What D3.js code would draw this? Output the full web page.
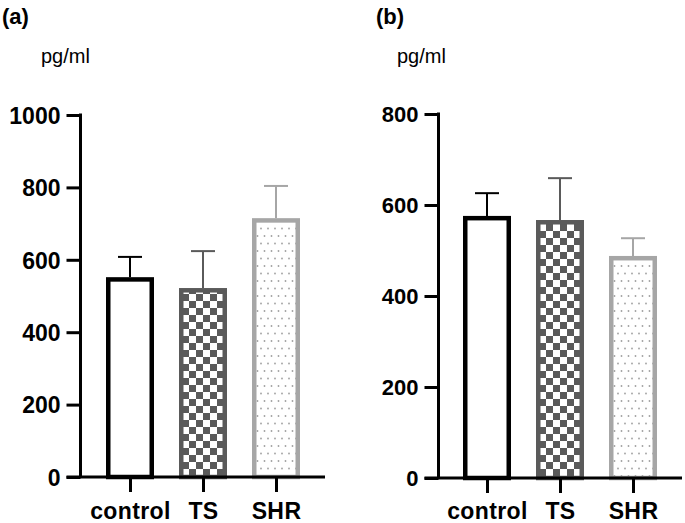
<!DOCTYPE html>
<html><head><meta charset="utf-8">
<script src="https://cdn.jsdelivr.net/npm/d3@7/dist/d3.min.js"></script>
<style>body{margin:0;background:#fff}svg{display:block}</style>
</head><body>
<svg id="c" width="685" height="523"></svg>
<script>
const categories = ["control", "TS", "SHR"];
const meansA = [552, 522, 715];
const errTopA = [608, 624, 804];
const meansB = [576, 567, 488];
const errTopB = [626, 659, 527];
const ticksA = [0, 200, 400, 600, 800, 1000];
const ticksB = [0, 200, 400, 600, 800];
const unitLabel = "pg/ml";
const panelTitles = ["(a)", "(b)"];

const svg = d3.select("#c");
const defs = svg.append("defs");
const chk = defs.append("pattern").attr("id","chk").attr("patternUnits","userSpaceOnUse")
  .attr("width",14).attr("height",14);
chk.append("rect").attr("width",14).attr("height",14).attr("fill","#fff");
chk.append("rect").attr("width",7).attr("height",7).attr("fill","#5a5a5a");
chk.append("rect").attr("x",7).attr("y",7).attr("width",7).attr("height",7).attr("fill","#5a5a5a");
const dot = defs.append("pattern").attr("id","dot").attr("patternUnits","userSpaceOnUse")
  .attr("width",7).attr("height",15);
dot.append("rect").attr("width",7).attr("height",15).attr("fill","#fff");
dot.append("circle").attr("cx",2).attr("cy",3.5).attr("r",0.9).attr("fill","#a0a0a0");
dot.append("circle").attr("cx",5.5).attr("cy",11).attr("r",0.9).attr("fill","#a0a0a0");

const styles = [
  {stroke:"#000", fill:"#fff", err:"#000"},
  {stroke:"#5a5a5a", fill:"url(#chk)", err:"#5a5a5a"},
  {stroke:"#a6a6a6", fill:"url(#dot)", err:"#a6a6a6"}
];
const FF = "Liberation Sans, Arial, sans-serif";

function panel(cfg){
  const g = svg.append("g");
  const y = d3.scaleLinear().domain([0, cfg.max]).range([cfg.y0, cfg.y1]);
  const x = d3.scalePoint().domain(categories).range(cfg.xr);
  const bw = 48, sw = 4.5;
  categories.forEach((c,i)=>{
    const cx = x(c);
    const st = styles[i];
    g.append("line").attr("x1",cx).attr("x2",cx).attr("y1",y(cfg.means[i])).attr("y2",y(cfg.err[i]))
      .attr("stroke",st.err).attr("stroke-width",2);
    g.append("line").attr("x1",cx-12).attr("x2",cx+12).attr("y1",y(cfg.err[i])).attr("y2",y(cfg.err[i]))
      .attr("stroke",st.err).attr("stroke-width",2);
    g.append("rect").attr("x",cx-bw/2+sw/2).attr("y",y(cfg.means[i])+sw/2)
      .attr("width",bw-sw).attr("height",y(0)-y(cfg.means[i])-sw/2)
      .attr("fill",st.fill).attr("stroke",st.stroke).attr("stroke-width",sw);
  });
  const ya = g.append("g").attr("transform",`translate(${cfg.ax},0)`)
    .call(d3.axisLeft(y).tickValues(cfg.ticks).tickFormat(d3.format("d")).tickSize(14).tickPadding(6).tickSizeOuter(0));
  ya.select(".domain").attr("stroke-width",3).attr("d",`M0,${y(0)}V${y(cfg.max)-1.5}`);
  ya.selectAll(".tick line").attr("stroke-width",3);
  ya.selectAll(".tick text").attr("font-family",FF)
    .attr("font-size",cfg.tfs).attr("font-weight","bold").attr("fill","#000").attr("dy","0.36em");
  const xa = g.append("g").attr("transform",`translate(0,${y(0)})`)
    .call(d3.axisBottom(x).tickSize(15).tickSizeOuter(0));
  xa.select(".domain").attr("stroke-width",3).attr("d",`M${cfg.ax-14},0H${cfg.xe}`);
  xa.selectAll(".tick line").attr("stroke-width",3);
  xa.selectAll(".tick text").attr("font-family",FF).attr("y",cfg.lb).attr("dy",0)
    .attr("font-size",23).attr("font-weight","bold").attr("fill","#000").attr("letter-spacing",0.4);
  svg.append("text").attr("x",cfg.tx).attr("y",24).text(cfg.title)
    .attr("font-family",FF).attr("font-size",22).attr("font-weight","bold");
  svg.append("text").attr("x",cfg.ux).attr("y",63).text(unitLabel)
    .attr("font-family",FF).attr("font-size",20);
}

panel({means:meansA, err:errTopA, max:1000, ticks:ticksA, y0:477, y1:115, xr:[130,276], ax:80.5, xe:325, tx:2, ux:41, title:panelTitles[0], tfs:23, lb:42});
panel({means:meansB, err:errTopB, max:800, ticks:ticksB, y0:478, y1:114, xr:[487,633], ax:438.5, xe:682, tx:376, ux:397, title:panelTitles[1], tfs:22, lb:41});
</script>
</body></html>
